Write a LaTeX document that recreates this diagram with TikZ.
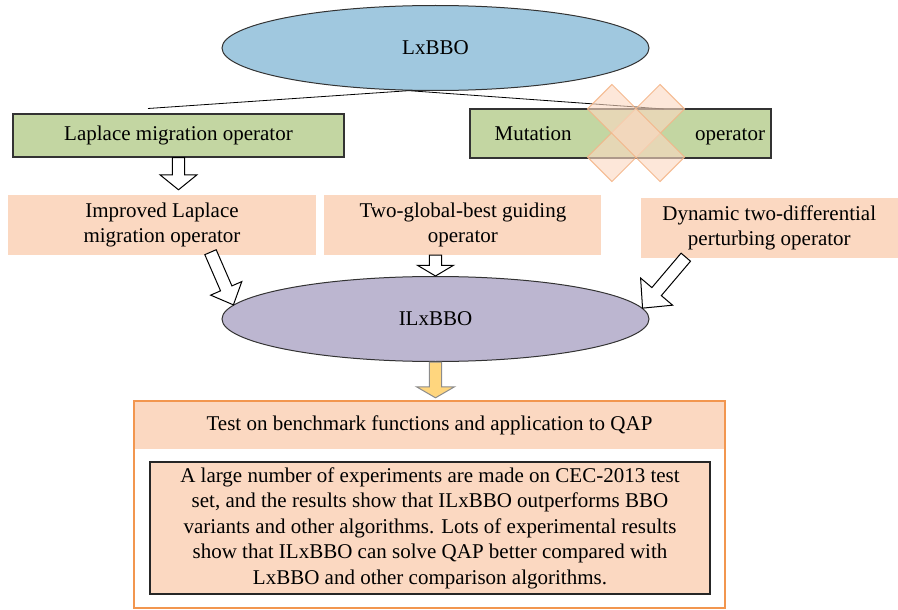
\documentclass[tikz,border=0pt]{standalone}
\usepackage{fontspec}
\setmainfont{Liberation Serif}
\usepackage{tikz}
\usetikzlibrary{positioning, arrows.meta, shapes.geometric, calc}
\definecolor{lxblue}{HTML}{A0C8DF}
\definecolor{ilxpurple}{HTML}{BCB6D0}
\definecolor{opgreen}{HTML}{C3D6A2}
\definecolor{peach}{HTML}{FBD8C1}
\definecolor{frameorange}{HTML}{F2964F}
\definecolor{crossline}{HTML}{F4B487}
\definecolor{downyellow}{HTML}{FFD67E}
\tikzset{
  ellipse1/.style = {
    shape = ellipse,
    draw = black!80,
    line width = 1pt,
    minimum width = 427pt,
    minimum height = 85pt,
    inner sep = 0pt,
  }
}
\tikzset{
  rect1/.style = {
    shape = rectangle,
    draw = black!80,
    line width = 1.2pt,
    fill = opgreen,
    inner sep = 0pt,
  }
}
\tikzset{
  rect2/.style = {
    shape = rectangle,
    fill = peach,
    align = center,
    inner sep = 0pt,
  }
}
\tikzset{
  crossbar/.style = {
    draw = crossline, fill = peach, fill opacity = 0.62, draw opacity = 0.9, line width = 1pt,
  }
}
\tikzset{
  arrow1/.style = {
    draw = black, line width = 1pt, fill = white, line join = miter,
  }
}
\tikzset{
  arrow2/.style = {
    draw = black!45, fill = downyellow,
  }
}
\newcommand{\shaftw}{6.2pt}
\newcommand{\blockarrow}[5][]{%
  \coordinate (headbase) at ($(#3)!#4!(#2)$);
  \draw[arrow1, #1] ($(#2)!\shaftw!90:(#3)$) -- ($(headbase)!\shaftw!90:(#3)$)
    -- ($(headbase)!#5!90:(#3)$) -- (#3) -- ($(headbase)!#5!-90:(#3)$)
    -- ($(headbase)!\shaftw!-90:(#3)$) -- ($(#2)!\shaftw!-90:(#3)$) -- cycle;
}

\begin{document}
\begin{tikzpicture}[x = 1pt, y = -1pt, font = \fontsize{21}{25.5}\selectfont]
            \useasboundingbox (0, 0) rectangle (898, 610);
            % LxBBO and its two operators
            \node[ellipse1, fill = lxblue](lx) at (435.5, 48){LxBBO};
            \node[rect1, minimum width = 331pt, minimum height = 43pt](lap) at (178.5, 135.5){Laplace migration operator};
            \node[rect1, minimum width = 301pt, minimum height = 49pt](mut) at (620.5, 133.5){};
            \node[anchor = base west, inner sep = 0pt](mutA) at ([xshift = 25pt, yshift = -6.5pt]mut.west){Mutation};
            \node[anchor = base east, inner sep = 0pt](mutB) at ([xshift = -6.4pt, yshift = -6.5pt]mut.east){operator};
            \coordinate (lend) at (148, 108.5);
            \coordinate (rend) at (664, 109);
            \draw[line width = 0.8pt](lend) -- (lx.238) -- (rend);
            % cross over the mutation operator
            \foreach \ang in {45, -45}
              \draw[crossbar, shift = {($(mut.center) + (15.5, -0.5)$)}, rotate = \ang](-51.3, -17.3) rectangle (51.3, 17.3);
            % improved operators
            \node[rect2, minimum width = 308pt, minimum height = 60pt](imp) at (162, 225){Improved Laplace\\migration operator};
            \node[rect2, minimum width = 277pt, minimum height = 60pt, right = 8pt of imp](two){Two-global-best guiding\\operator};
            \node[rect2, minimum width = 257pt, minimum height = 60pt, right = 39pt of two, yshift = -3pt](dyn){Dynamic two-differential\\perturbing operator};
            \node[ellipse1, fill = ilxpurple](ilx) at (435.5, 319){ILxBBO};
            % test box
            \node[rect2, minimum width = 591pt, minimum height = 48pt](head) at (429.5, 425){Test on benchmark functions and application to QAP};
            \node[rect2, draw = black!85, line width = 1.6pt, minimum width = 560pt, minimum height = 132pt](res) at (430, 528){A large number of experiments are made on CEC-2013 test\\set, and the results show that ILxBBO outperforms BBO\\variants and other algorithms. Lots of experimental results\\show that ILxBBO can solve QAP better compared with\\LxBBO and other comparison algorithms.};
            \coordinate (framecorner) at ($(head.east |- res.south) + (0, 13)$);
            \draw[draw = frameorange, line width = 1.5pt](head.north west) rectangle (framecorner);
            % block arrows
            \coordinate (a1) at ($(lap.south |- imp.north) + (0, -5)$);
            \coordinate (a2) at ($(imp.south) + (48.5, -3)$);
            \coordinate (a3) at (ilx.north |- two.south);
            \coordinate (a4) at ($(dyn.south) + (-83.5, -1)$);
            \coordinate (a5) at ($(ilx.south |- head.north) + (0, -3)$);
            \blockarrow{lap.south}{a1}{15pt}{18.5pt}
            \blockarrow{a2}{ilx.176}{18pt}{17pt}
            \blockarrow{a3}{ilx.north}{10.7pt}{18pt}
            \blockarrow{a4}{ilx.3}{21.7pt}{21pt}
            \blockarrow[arrow2]{ilx.south}{a5}{11pt}{19pt}
        \end{tikzpicture}
\end{document}
